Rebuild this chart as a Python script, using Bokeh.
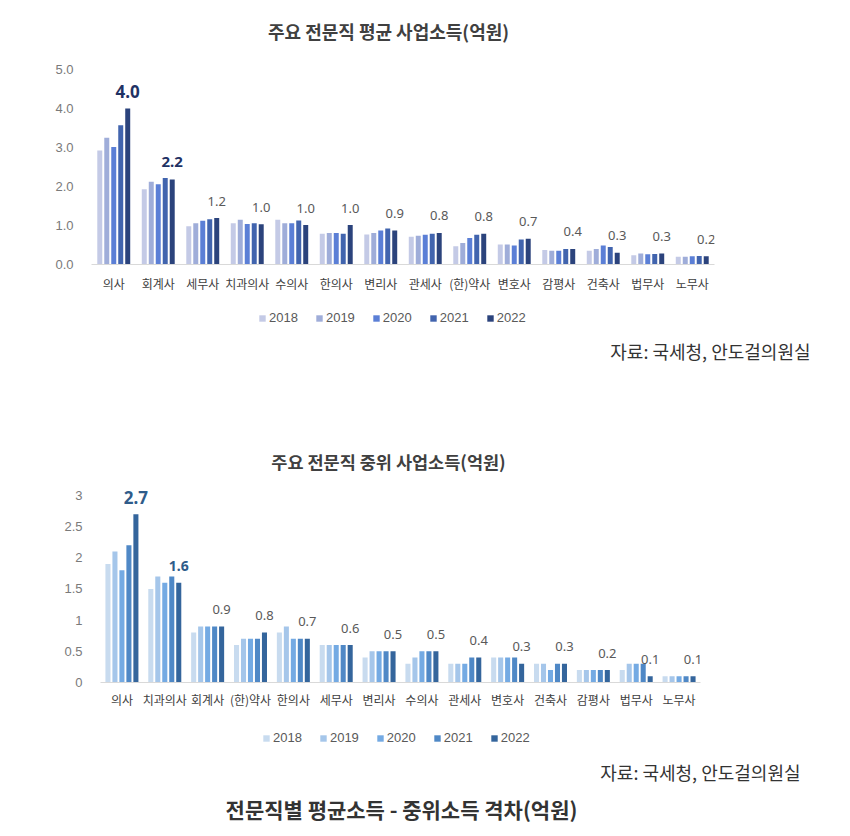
from bokeh.plotting import figure
from bokeh.models import (ColumnDataSource, Legend, LegendItem, Label, NumeralTickFormatter,
                          FixedTicker, Range1d, FactorRange)
from bokeh.transform import dodge
from bokeh.layouts import column
from bokeh.core.properties import value
from bokeh.embed import file_html
from bokeh.resources import INLINE

KR = "Noto Sans CJK KR"
NUM = "Liberation Sans"

years = ["2018", "2019", "2020", "2021", "2022"]

# ---- Chart 1: average business income (억원)
cats1 = ["의사", "회계사", "세무사", "치과의사", "수의사", "한의사", "변리사", "관세사",
         "(한)약사", "변호사", "감평사", "건축사", "법무사", "노무사"]
avg_2018 = [2.92, 1.93, 0.98, 1.06, 1.15, 0.79, 0.77, 0.71, 0.47, 0.51, 0.37, 0.35, 0.24, 0.20]
avg_2019 = [3.25, 2.12, 1.06, 1.15, 1.06, 0.81, 0.81, 0.74, 0.55, 0.51, 0.35, 0.40, 0.28, 0.20]
avg_2020 = [3.01, 2.06, 1.12, 1.04, 1.06, 0.81, 0.87, 0.76, 0.68, 0.49, 0.35, 0.49, 0.26, 0.21]
avg_2021 = [3.57, 2.22, 1.16, 1.06, 1.13, 0.79, 0.92, 0.79, 0.76, 0.64, 0.40, 0.45, 0.27, 0.22]
avg_2022 = [4.00, 2.18, 1.19, 1.03, 1.01, 1.01, 0.87, 0.81, 0.79, 0.66, 0.40, 0.30, 0.28, 0.21]
ticks1 = [0, 1, 2, 3, 4, 5]

# ---- Chart 2: median business income (억원)
cats2 = ["의사", "치과의사", "회계사", "(한)약사", "한의사", "세무사", "변리사", "수의사",
         "관세사", "변호사", "건축사", "감평사", "법무사", "노무사"]
med_2018 = [1.9, 1.5, 0.8, 0.6, 0.8, 0.6, 0.4, 0.3, 0.3, 0.4, 0.3, 0.2, 0.2, 0.1]
med_2019 = [2.1, 1.7, 0.9, 0.7, 0.9, 0.6, 0.5, 0.4, 0.3, 0.4, 0.3, 0.2, 0.3, 0.1]
med_2020 = [1.8, 1.6, 0.9, 0.7, 0.7, 0.6, 0.5, 0.5, 0.3, 0.4, 0.2, 0.2, 0.3, 0.1]
med_2021 = [2.2, 1.7, 0.9, 0.7, 0.7, 0.6, 0.5, 0.5, 0.4, 0.4, 0.3, 0.2, 0.3, 0.1]
med_2022 = [2.7, 1.6, 0.9, 0.8, 0.7, 0.6, 0.5, 0.5, 0.4, 0.3, 0.3, 0.2, 0.1, 0.1]
ticks2 = [0, 0.5, 1, 1.5, 2, 2.5, 3]

colors1 = ["#c4cae6", "#9fadd9", "#5b7fd6", "#4164ae", "#2b437c"]
colors2 = ["#c8dbef", "#a5c6ea", "#74aae3", "#4f88c6", "#34659c"]

TITLE1 = "주요 전문직 평균 사업소득(억원)"
TITLE2 = "주요 전문직 중위 사업소득(억원)"
SOURCE_TEXT = "자료: 국세청, 안도걸의원실"
BOTTOM_TITLE = "전문직별 평균소득 - 중위소득 격차(억원)"


def make_chart(cats, series, colors, ymax, ticks, tick_fmt,
               height, b_left, b_right, b_top, b_bottom, pitch, bw,
               bold_color, bold_sizes, xlab_standoff):
    data = {"cat": cats}
    for y, s in zip(years, series):
        data["y" + y] = s
    p = figure(x_range=FactorRange(*cats), y_range=Range1d(0, ymax), title=None,
               width=850, height=height, output_backend="svg", toolbar_location=None,
               min_border_left=b_left, min_border_right=b_right,
               min_border_top=b_top, min_border_bottom=b_bottom)
    p.frame_align = False
    p.outline_line_color = None
    p.xgrid.visible = False
    p.ygrid.visible = False
    p.x_range.range_padding = 0
    p.x_range.group_padding = 0
    src = ColumnDataSource(data)

    offs = [(-2 + i) * pitch for i in range(5)]
    for i, y in enumerate(years):
        p.vbar(x=dodge("cat", offs[i], range=p.x_range), top="y" + y, width=bw,
               source=src, fill_color=colors[i], line_color=None)

    # value labels from the 2022 series
    last = series[-1]
    for idx in range(len(cats)):
        sub = ColumnDataSource({"cat": [cats[idx]], "v": [last[idx]],
                                "lab": [f"{last[idx]:.1f}"]})
        bold = idx < len(bold_sizes)
        p.text(x=dodge("cat", offs[4], range=p.x_range), y="v", text="lab", source=sub,
               text_align="center", text_baseline="middle", y_offset=-17,
               text_font=value("Noto Sans"),
               text_font_size=bold_sizes[idx] if bold else "13px",
               text_font_style="bold" if bold else "normal",
               text_color=bold_color if bold else "#595959")

    p.yaxis.ticker = FixedTicker(ticks=ticks)
    p.yaxis.formatter = NumeralTickFormatter(format=tick_fmt)
    p.yaxis.axis_line_color = None
    p.yaxis.major_tick_line_color = None
    p.yaxis.minor_tick_line_color = None
    p.yaxis.major_label_text_font = NUM
    p.yaxis.major_label_text_font_size = "13px"
    p.yaxis.major_label_text_color = "#7a7a7a"
    p.yaxis.major_label_standoff = 12

    p.xaxis.axis_line_color = "#d9d9d9"
    p.xaxis.major_tick_line_color = None
    p.xaxis.minor_tick_line_color = None
    p.xaxis.major_label_text_font = KR
    p.xaxis.major_label_text_font_size = "12px"
    p.xaxis.major_label_text_color = "#404040"
    p.xaxis.major_label_standoff = xlab_standoff
    return p


def make_strip(height, colors=None, legend_left=None, legend_y=None,
               source_right=None, source_y=None, titles=()):
    f = figure(width=850, height=height, x_range=Range1d(0, 850), y_range=Range1d(height, 0),
               title=None, output_backend="svg", toolbar_location=None, min_border=0,
               x_axis_location=None, y_axis_location=None)
    f.frame_align = False
    f.outline_line_color = None
    f.xgrid.visible = False
    f.ygrid.visible = False
    if colors is not None:
        items = []
        for i, y in enumerate(years):
            # zero-size swatch carriers for the legend
            r = f.vbar(x=[0], top=[0], bottom=[0], width=0, fill_color=colors[i], line_color=None)
            items.append(LegendItem(label=y, renderers=[r]))
        leg = Legend(items=items, orientation="horizontal",
                     location=(legend_left, height - legend_y - 7),
                     border_line_color=None, background_fill_alpha=0,
                     glyph_width=8, glyph_height=8, label_standoff=3, spacing=17,
                     label_text_font=NUM, label_text_font_size="13px",
                     label_text_color="#595959", label_height=13, padding=0, margin=0)
        f.add_layout(leg)
    if source_right is not None:
        f.add_layout(Label(x=source_right, y=source_y, text=SOURCE_TEXT, text_align="right",
                           text_baseline="middle", text_font=KR, text_font_size="18px",
                           text_color="#333333"))
    for (txt, x, y, size, color) in titles:
        f.add_layout(Label(x=x, y=y, text=txt, text_align="center",
                           text_baseline="middle", text_font=KR, text_font_size=size,
                           text_font_style="bold", text_color=color))
    return f


h1 = make_strip(52, titles=[(TITLE1, 388, 30, "18px", "#404040")])
p1 = make_chart(cats1, [avg_2018, avg_2019, avg_2020, avg_2021, avg_2022], colors1,
                5.0, ticks1, "0.0",
                248, 91, 136, 17, 36, 0.157, 0.112,
                "#1f3264", ["17px", "15px"], 4)
f1 = make_strip(176, colors1, 258, 18, 810, 50,
                titles=[(TITLE2, 388, 161, "17.5px", "#404040")])
p2 = make_chart(cats2, [med_2018, med_2019, med_2020, med_2021, med_2022], colors2,
                3.24, ticks2, "0.[0]",
                234, 100, 150, 4, 27, 0.163, 0.118,
                "#2f5c8a", ["17px", "14px"], 2)
f2 = make_strip(126, colors2, 262, 28, 800, 61,
                titles=[(BOTTOM_TITLE, 401, 98, "21px", "#333333")])

layout = column(h1, p1, f1, p2, f2, spacing=0)
open("out.html", "w").write(file_html(layout, INLINE))
